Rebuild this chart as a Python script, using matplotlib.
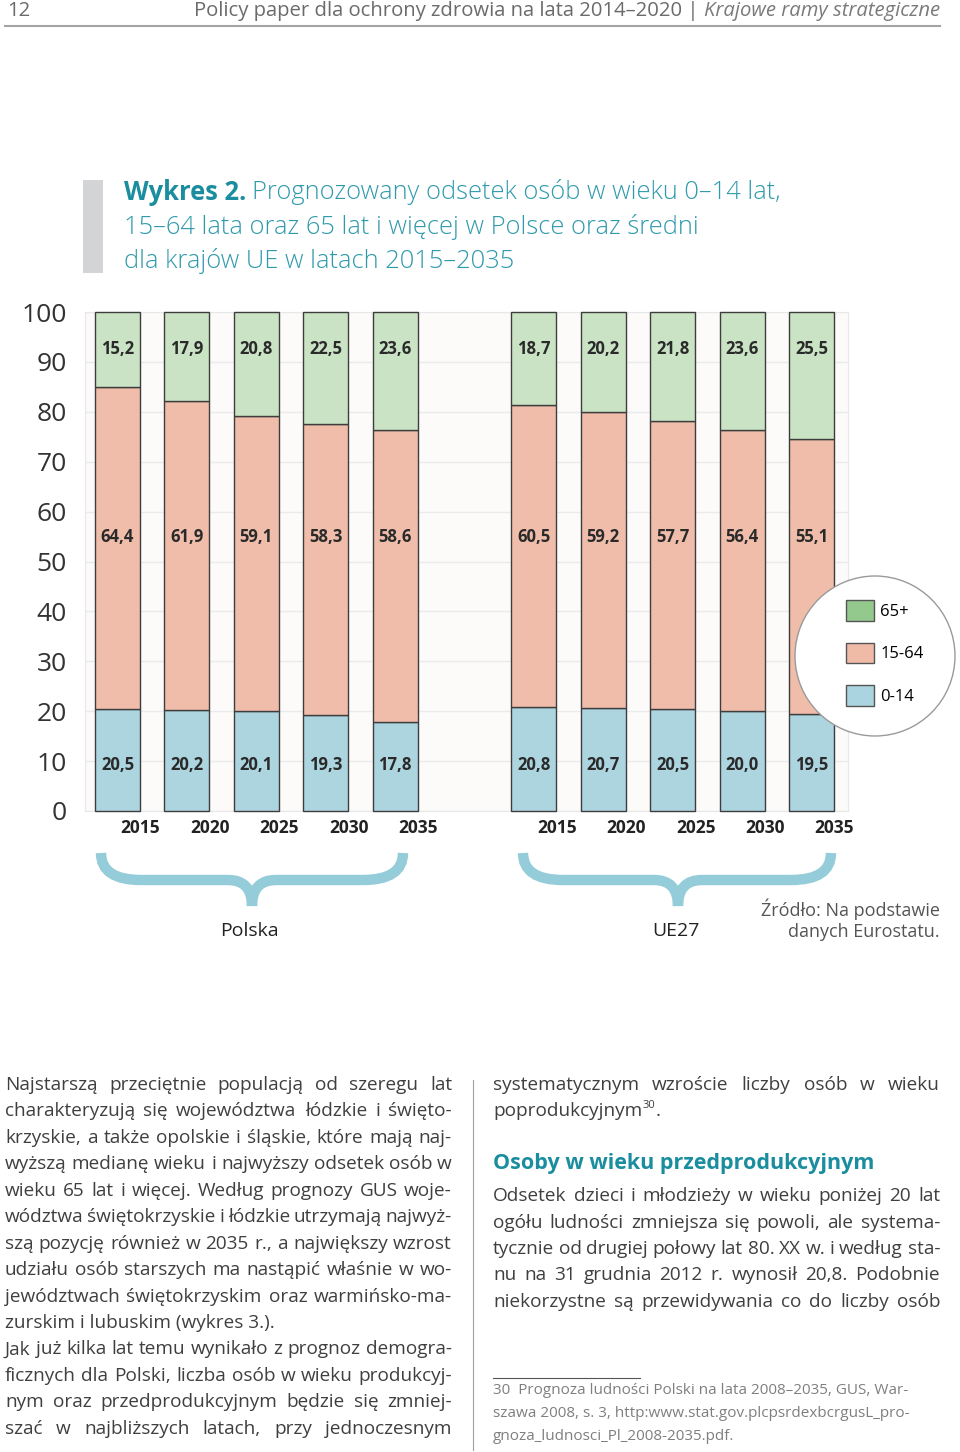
import matplotlib
matplotlib.use("Agg")
import matplotlib.pyplot as plt
import matplotlib.patches as mpatches
from matplotlib.path import Path
from matplotlib.lines import Line2D

plt.rcParams['font.family'] = ['Open Sans', 'DejaVu Sans']

# data
years = ['2015', '2020', '2025', '2030', '2035']
groups = ['Polska', 'UE27']
pl_0_14 = [20.5, 20.2, 20.1, 19.3, 17.8]
pl_15_64 = [64.4, 61.9, 59.1, 58.3, 58.6]
pl_65 = [15.2, 17.9, 20.8, 22.5, 23.6]
ue_0_14 = [20.8, 20.7, 20.5, 20.0, 19.5]
ue_15_64 = [60.5, 59.2, 57.7, 56.4, 55.1]
ue_65 = [18.7, 20.2, 21.8, 23.6, 25.5]
series = ['65+', '15-64', '0-14']
yticks = list(range(0, 101, 10))

W, H = 960, 1452
fig = plt.figure(figsize=(W / 100, H / 100), dpi=100)
renderer = fig.canvas.get_renderer()


def fx(x):
    return x / W


def fy(y):
    return 1 - y / H


def wpx(t):
    return t.get_window_extent(renderer).width


bar_col = {'0-14': '#acd5e0', '15-64': '#efbdaa', '65+': '#c9e3c4'}
key_col = {'0-14': '#a9d4e0', '15-64': '#efbba7', '65+': '#93c98c'}
teal = '#1a8d9e'

# ---- chart
ax = fig.add_axes([fx(85), fy(811), (848 - 85) / W, (811 - 312) / H])
ax.set_facecolor('#fcfbfa')
pos_pl = list(range(5))
pos_ue = [p + 6 for p in range(5)]
bw = 0.648
for pos, a, b, c in [(pos_pl, pl_0_14, pl_15_64, pl_65), (pos_ue, ue_0_14, ue_15_64, ue_65)]:
    mid_bottom = a
    top_bottom = [x + y for x, y in zip(a, b)]
    kw = dict(width=bw, edgecolor='#3d3d3d', linewidth=1, clip_on=False, zorder=3)
    ax.bar(pos, a, color=bar_col['0-14'], **kw)
    ax.bar(pos, b, bottom=mid_bottom, color=bar_col['15-64'], **kw)
    ax.bar(pos, c, bottom=top_bottom, color=bar_col['65+'], **kw)
    for p, va, vb, vc in zip(pos, a, b, c):
        for yy, v in [(9.2, va), (55, vb), (92.5, vc)]:
            ax.text(p, yy, f"{v:.1f}".replace('.', ','), ha='center', va='center',
                    fontsize=12, fontweight='bold', color='#2a2a2a', zorder=4)

ax.set_xlim(-0.468, 10.526)
ax.set_ylim(0, 100)
ax.set_yticks(yticks)
ax.set_yticklabels([str(t) for t in yticks], fontsize=19, color='#333333')
ax.set_xticks([p + 0.33 for p in pos_pl + pos_ue])
ax.set_xticklabels(years + years, fontsize=12.5, fontweight='bold', color='#222222')
ax.tick_params(axis='y', length=0, pad=13)
ax.tick_params(axis='x', length=0, pad=6)
ax.yaxis.grid(True, color='#ebebeb', lw=1)
ax.set_axisbelow(True)
for s in ax.spines.values():
    s.set_color('#e8e8e8')

# legend in a circle
circ = mpatches.Ellipse((fx(875), fy(656)), 160 / W, 160 / H, transform=fig.transFigure,
                        facecolor='white', edgecolor='#9a9a9a', lw=1, zorder=2)
fig.add_artist(circ)
handles = [mpatches.Patch(facecolor=key_col[s], edgecolor='#555555', lw=1) for s in series]
fig.legend(handles, series, loc='center left', bbox_to_anchor=(fx(846), fy(653)),
           frameon=False, fontsize=12, borderpad=0, borderaxespad=0,
           handlelength=1.7, handleheight=1.55, labelspacing=1.3, handletextpad=0.35)


# braces under groups
def brace(x0, x1, xc, ytop=853, ymid=880, ytip=906):
    verts = [(x0, ytop), (x0, ymid), (x0 + 40, ymid), (xc - 24, ymid),
             (xc, ymid), (xc, ytip), (xc, ymid), (xc + 24, ymid),
             (x1 - 40, ymid), (x1, ymid), (x1, ytop)]
    codes = [Path.MOVETO, Path.CURVE3, Path.CURVE3, Path.LINETO,
             Path.CURVE3, Path.CURVE3, Path.CURVE3, Path.CURVE3,
             Path.LINETO, Path.CURVE3, Path.CURVE3]
    path = Path([(fx(x), fy(y)) for x, y in verts], codes)
    fig.add_artist(mpatches.PathPatch(path, transform=fig.transFigure, fill=False,
                                      edgecolor='#94ccd9', lw=7.5, capstyle='butt',
                                      joinstyle='miter'))


brace(101, 403, 252)
brace(523, 831, 678)
fig.text(fx(249), fy(931), groups[0], ha='center', va='center', fontsize=14, color='#222222')
fig.text(fx(676), fy(931), groups[1], ha='center', va='center', fontsize=14, color='#222222')
fig.text(fx(940), fy(909), 'Źródło: Na podstawie', ha='right', va='center', fontsize=13, color='#555555')
fig.text(fx(940), fy(932), 'danych Eurostatu.', ha='right', va='center', fontsize=13, color='#555555')

# ---- page header
fig.text(fx(7), fy(11), '12', fontsize=14.6, color='#6b6b6b', va='center')
it = fig.text(fx(940), fy(11), 'Krajowe ramy strategiczne', fontsize=14.6, style='italic',
              color='#7a7a7a', ha='right', va='center')
fig.text(fx(940 - wpx(it) - 5), fy(11), 'Policy paper dla ochrony zdrowia na lata 2014–2020 |',
         fontsize=14.6, color='#6b6b6b', ha='right', va='center')
fig.add_artist(Line2D([fx(5), fx(940)], [fy(26), fy(26)], color='#a5a5a5', lw=1.5))

# ---- chart title
fig.add_artist(mpatches.Rectangle((fx(83), fy(273)), 20 / W, 93 / H, transform=fig.transFigure,
                                  color='#d3d4d5', lw=0))
tsz = 18.4
tb = fig.text(fx(124), fy(192), 'Wykres 2.', fontsize=tsz, fontweight='bold', color=teal, va='center')
fig.text(fx(124 + wpx(tb) + 6), fy(192), 'Prognozowany odsetek osób w wieku 0–14 lat,',
         fontsize=tsz, fontweight='light', color='#2f9aab', va='center')
fig.text(fx(124), fy(227), '15–64 lata oraz 65 lat i więcej w Polsce oraz średni',
         fontsize=tsz, fontweight='light', color='#2f9aab', va='center')
fig.text(fx(124), fy(261), 'dla krajów UE w latach 2015–2035',
         fontsize=tsz, fontweight='light', color='#2f9aab', va='center')

# ---- body text
body = dict(fontsize=13.7, color='#3f3f3f')


def line(x0, x1, y, s, justify=True, **kw):
    if not justify:
        return fig.text(fx(x0), fy(y), s, va='center', **kw)
    words = s.split()
    arts = [fig.text(0, fy(y), w_, va='center', **kw) for w_ in words]
    ws = [wpx(a) for a in arts]
    gap = (x1 - x0 - sum(ws)) / (len(words) - 1)
    x = x0
    for a, w_ in zip(arts, ws):
        a.set_x(fx(x))
        x += w_ + gap
    return arts[-1]


left_lines = [
    ("Najstarszą przeciętnie populacją od szeregu lat", True),
    ("charakteryzują się województwa łódzkie i święto-", True),
    ("krzyskie, a także opolskie i śląskie, które mają naj-", True),
    ("wyższą medianę wieku i najwyższy odsetek osób w", True),
    ("wieku 65 lat i więcej. Według prognozy GUS woje-", True),
    ("wództwa świętokrzyskie i łódzkie utrzymają najwyż-", True),
    ("szą pozycję również w 2035 r., a największy wzrost", True),
    ("udziału osób starszych ma nastąpić właśnie w wo-", True),
    ("jewództwach świętokrzyskim oraz warmińsko-ma-", True),
    ("zurskim i lubuskim (wykres 3.).", False),
    ("Jak już kilka lat temu wynikało z prognoz demogra-", True),
    ("ficznych dla Polski, liczba osób w wieku produkcyj-", True),
    ("nym oraz przedprodukcyjnym będzie się zmniej-", True),
    ("szać w najbliższych latach, przy jednoczesnym", True),
]
for i, (s, j) in enumerate(left_lines):
    line(5, 452, 1085 + i * 26.45, s, j, **body)

fig.add_artist(Line2D([fx(473), fx(473)], [fy(1080), fy(1450)], color='#a0a0a0', lw=0.8))

line(493, 940, 1085, "systematycznym wzroście liczby osób w wieku", True, **body)
t = line(493, 940, 1111, "poprodukcyjnym", False, **body)
xe = 493 + wpx(t)
sup = fig.text(fx(xe), fy(1106), '30', fontsize=8, color='#3f3f3f', va='center')
fig.text(fx(xe + 1 + wpx(sup)), fy(1111), '.', va='center', **body)

fig.text(fx(493), fy(1163), 'Osoby w wieku przedprodukcyjnym', fontsize=15.5,
         fontweight='bold', color=teal, va='center')
right_lines = [
    "Odsetek dzieci i młodzieży w wieku poniżej 20 lat",
    "ogółu ludności zmniejsza się powoli, ale systema-",
    "tycznie od drugiej połowy lat 80. XX w. i według sta-",
    "nu na 31 grudnia 2012 r. wynosił 20,8. Podobnie",
    "niekorzystne są przewidywania co do liczby osób",
]
for i, s in enumerate(right_lines):
    line(493, 940, 1196 + i * 26.5, s, True, **body)

fig.add_artist(Line2D([fx(493), fx(640)], [fy(1378), fy(1378)], color='#555555', lw=0.8))
foot = [
    "30  Prognoza ludności Polski na lata 2008–2035, GUS, War-",
    "szawa 2008, s. 3, http:www.stat.gov.plcpsrdexbcrgusL_pro-",
    "gnoza_ludnosci_Pl_2008-2035.pdf.",
]
for i, s in enumerate(foot):
    fig.text(fx(493), fy(1391 + i * 22.5), s, fontsize=11, color='#7f7f7f', va='center')

fig.savefig('out.png', dpi=100)
